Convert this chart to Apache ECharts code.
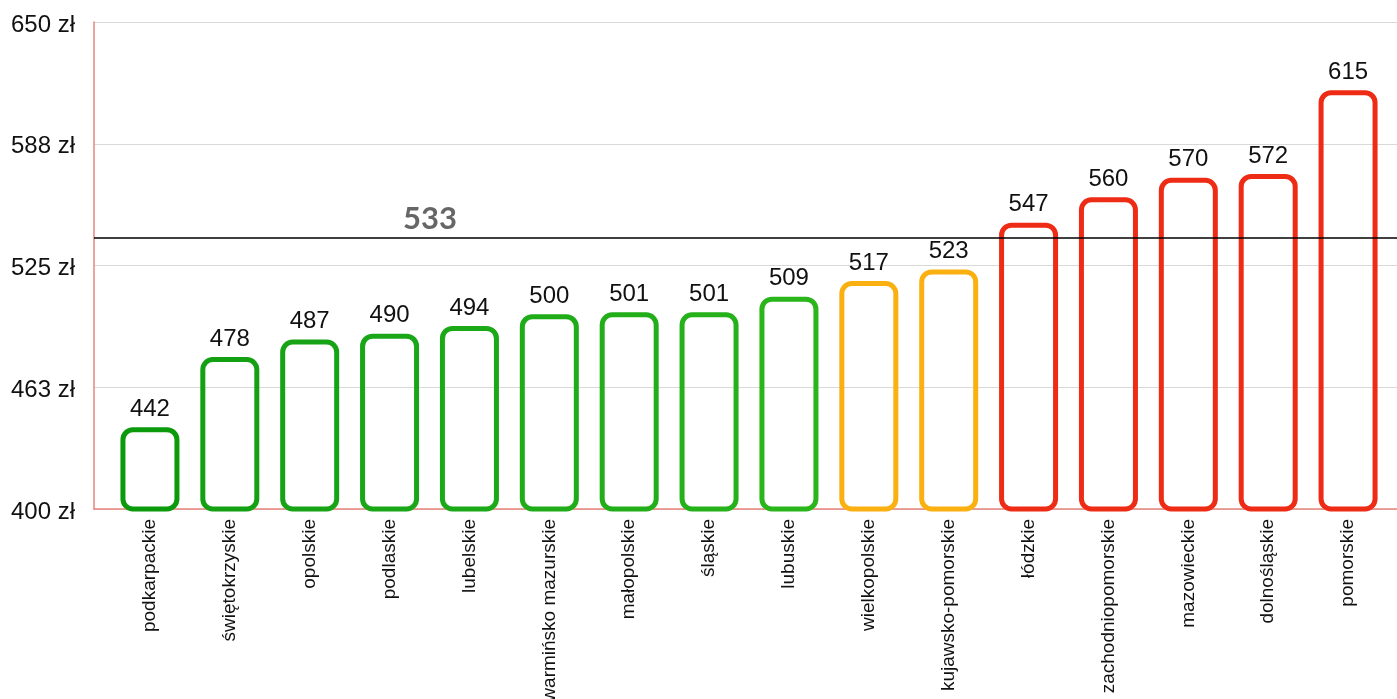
<!DOCTYPE html>
<html>
<head>
<meta charset="utf-8">
<script src="https://cdn.jsdelivr.net/npm/echarts@6/dist/echarts.min.js"></script>
<style>html,body{margin:0;padding:0;background:#fff;}#c{width:1397px;height:699px;}</style>
</head>
<body>
<div id="c"></div>
<script>
const categories = ['podkarpackie','świętokrzyskie','opolskie','podlaskie','lubelskie','warmińsko mazurskie','małopolskie','śląskie','lubuskie','wielkopolskie','kujawsko-pomorskie','łódzkie','zachodniopomorskie','mazowieckie','dolnośląskie','pomorskie'];
const values = [442,478,487,490,494,500,501,501,509,517,523,547,560,570,572,615];
const barColors = ['#0b9a0b','#13a013','#16a316','#19a617','#1ca918','#20ac19','#22ae19','#25b11a','#2ab51b','#fbb012','#fbb012','#ee2b14','#ee2b14','#ee2b14','#ee2b14','#ee2b14'];
const averageLineValue = 539;
const averageLabel = '533';
const yMin = 400, yMax = 650, yInterval = 62.5;

const font = '"Liberation Sans", Arial, sans-serif';
const chart = echarts.init(document.getElementById('c'));
chart.setOption({
  animation: false,
  backgroundColor: '#fff',
  grid: [
    {left: 94, right: 0, top: 22, bottom: 190, outerBoundsMode: 'none', containLabel: false},
    {left: 110, right: 9, top: 22, bottom: 190, outerBoundsMode: 'none', containLabel: false}
  ],
  xAxis: [
    {type: 'category', gridIndex: 0, data: categories, axisLine: {lineStyle: {color: '#e8847c', width: 1.5}}, axisTick: {show: false}, axisLabel: {show: false}},
    {type: 'category', gridIndex: 1, data: categories, axisLine: {show: false}, axisTick: {show: false},
     axisLabel: {rotate: 90, interval: 0, fontSize: 19, color: '#111', fontFamily: font, margin: 10}}
  ],
  yAxis: [
    {type: 'value', gridIndex: 0, min: yMin, max: yMax, interval: yInterval,
     axisLine: {show: true, lineStyle: {color: '#e8847c', width: 1.5}}, axisTick: {show: false},
     splitLine: {lineStyle: {color: '#d9d9d9', width: 1}},
     axisLabel: {fontSize: 24, color: '#111', fontFamily: font, margin: 19, verticalAlign: 'top', lineHeight: 6, formatter: v => Math.round(v) + ' zł'}},
    {type: 'value', gridIndex: 1, min: yMin, max: yMax, interval: yInterval, show: false}
  ],
  series: [
    {
      type: 'line', xAxisIndex: 0, yAxisIndex: 0, data: categories.map(() => null), symbol: 'none', silent: true,
      markLine: {
        silent: true, symbol: ['none','none'],
        lineStyle: {color: '#000', width: 1.5, type: 'solid'},
        label: {show: true, position: 'insideStartTop', distance: [309, 4], formatter: averageLabel,
                color: '#666', fontSize: 31, fontWeight: 'bold', fontFamily: 'Lato, "Open Sans", sans-serif'},
        data: [{yAxis: averageLineValue}]
      }
    },
    {
      type: 'bar', xAxisIndex: 1, yAxisIndex: 1, barWidth: 59,
      data: values.map((v, i) => ({value: v, itemStyle: {borderColor: barColors[i]}})),
      itemStyle: {color: 'rgba(255,255,255,0)', borderWidth: 5, borderRadius: 10},
      label: {show: true, position: 'top', distance: 6, fontSize: 24, color: '#111', fontFamily: font}
    }
  ]
});
</script>
</body>
</html>
